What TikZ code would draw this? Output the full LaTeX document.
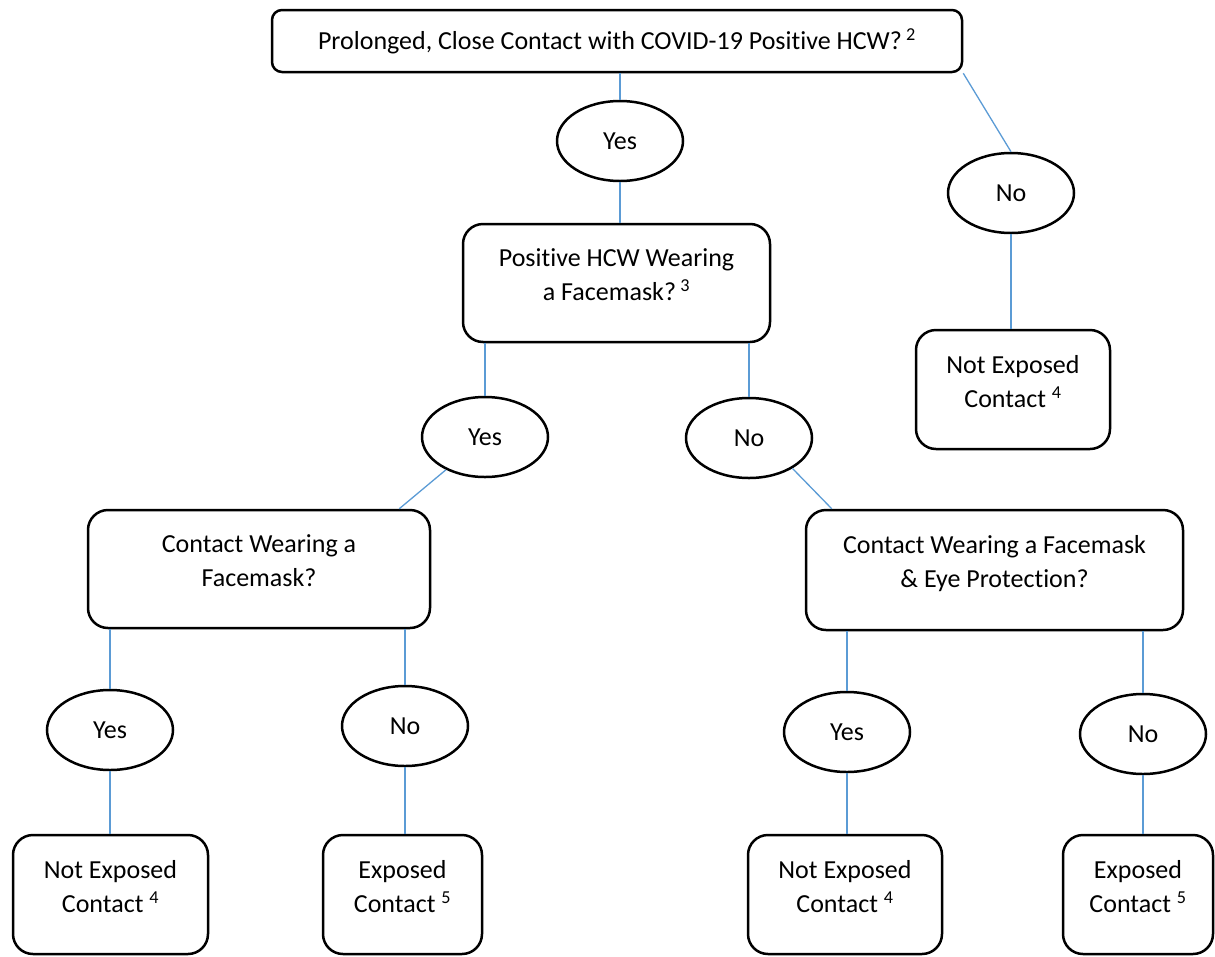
\documentclass[tikz,border=0pt]{standalone}
\usepackage{fontspec}
\setmainfont{Carlito}[Ligatures=NoCommon]
\usetikzlibrary{shapes.geometric,calc}
\definecolor{linkblue}{HTML}{5B9BD5}
\newcommand{\lowstrut}{\rule[-17pt]{0pt}{0pt}}

\begin{document}
\begin{tikzpicture}[x=1pt,y=-1pt]
\tikzstyle{every node} = [font=\fontsize{26}{34}\selectfont]
\tikzstyle{decision} = [draw, line width=2.5pt, rounded corners=20pt, align=center, inner sep=0pt]
\tikzstyle{answer} = [draw, ellipse, line width=2.5pt, minimum width=126pt, minimum height=80pt, inner sep=0pt]
\tikzstyle{link} = [draw=linkblue, line width=1.3pt]
\useasboundingbox (0,0) rectangle (1215,956);

% question boxes
\node[decision, rounded corners=10pt, minimum width=690pt, minimum height=62pt] (close) at (617,41) {Prolonged, Close Contact with COVID-19 Positive HCW?\,\textsuperscript{2}};
\node[decision, minimum width=307pt, minimum height=118pt] (hcwmask) at (616.5,283) {Positive HCW Wearing\\a Facemask?\,\textsuperscript{3}\lowstrut};
\node[decision, minimum width=342pt, minimum height=118pt] (cmask) at (259,569) {Contact Wearing a\\Facemask?\lowstrut};
\node[decision, minimum width=377pt, minimum height=120pt] (ceye) at (994.5,570) {Contact Wearing a Facemask\\\& Eye Protection?\lowstrut};

% outcome boxes
\node[decision, minimum width=194pt, minimum height=119pt] (notexpA) at (1013,389.5) {Not Exposed\\Contact \textsuperscript{4}\lowstrut};
\node[decision, minimum width=195pt, minimum height=119pt] (notexpB) at (110.5,894.5) {Not Exposed\\Contact \textsuperscript{4}\lowstrut};
\node[decision, minimum width=159pt, minimum height=119pt] (expA) at (402.5,894.5) {Exposed\\Contact \textsuperscript{5}\lowstrut};
\node[decision, minimum width=194pt, minimum height=119pt] (notexpC) at (845,894.5) {Not Exposed\\Contact \textsuperscript{4}\lowstrut};
\node[decision, minimum width=150pt, minimum height=119pt] (expB) at (1138,894.5) {Exposed\\Contact \textsuperscript{5}\lowstrut};

% answers
\node[answer] (yes1) at (620,141) {Yes};
\node[answer] (no1) at (1011,193) {No};
\node[answer] (yes2) at (485,437) {Yes};
\node[answer] (no2) at (749,438) {No};
\node[answer] (yes3) at (110,730) {Yes};
\node[answer] (no3) at (405,726) {No};
\node[answer] (yes4) at (847,732) {Yes};
\node[answer] (no4) at (1143,734) {No};

% connectors
\draw[link] (yes1.north) -- (yes1.north |- close.south);
\draw[link] (close.south east) -- (no1.north);
\draw[link] (yes1.south) -- (yes1.south |- hcwmask.north);
\draw[link] (no1.south) -- (no1.south |- notexpA.north);
\draw[link] (yes2.north) -- (yes2.north |- hcwmask.south);
\draw[link] (no2.north) -- (no2.north |- hcwmask.south);
\draw[link] (yes2.220) -- ([xshift=-32pt]cmask.north east);
\draw[link] (no2.325) -- ([xshift=27pt]ceye.north west);
\draw[link] (yes3.north) -- (yes3.north |- cmask.south);
\draw[link] (no3.north) -- (no3.north |- cmask.south);
\draw[link] (yes4.north) -- (yes4.north |- ceye.south);
\draw[link] (no4.north) -- (no4.north |- ceye.south);
\draw[link] (yes3.south) -- (yes3.south |- notexpB.north);
\draw[link] (no3.south) -- (no3.south |- expA.north);
\draw[link] (yes4.south) -- (yes4.south |- notexpC.north);
\draw[link] (no4.south) -- (no4.south |- expB.north);
\end{tikzpicture}
\end{document}
